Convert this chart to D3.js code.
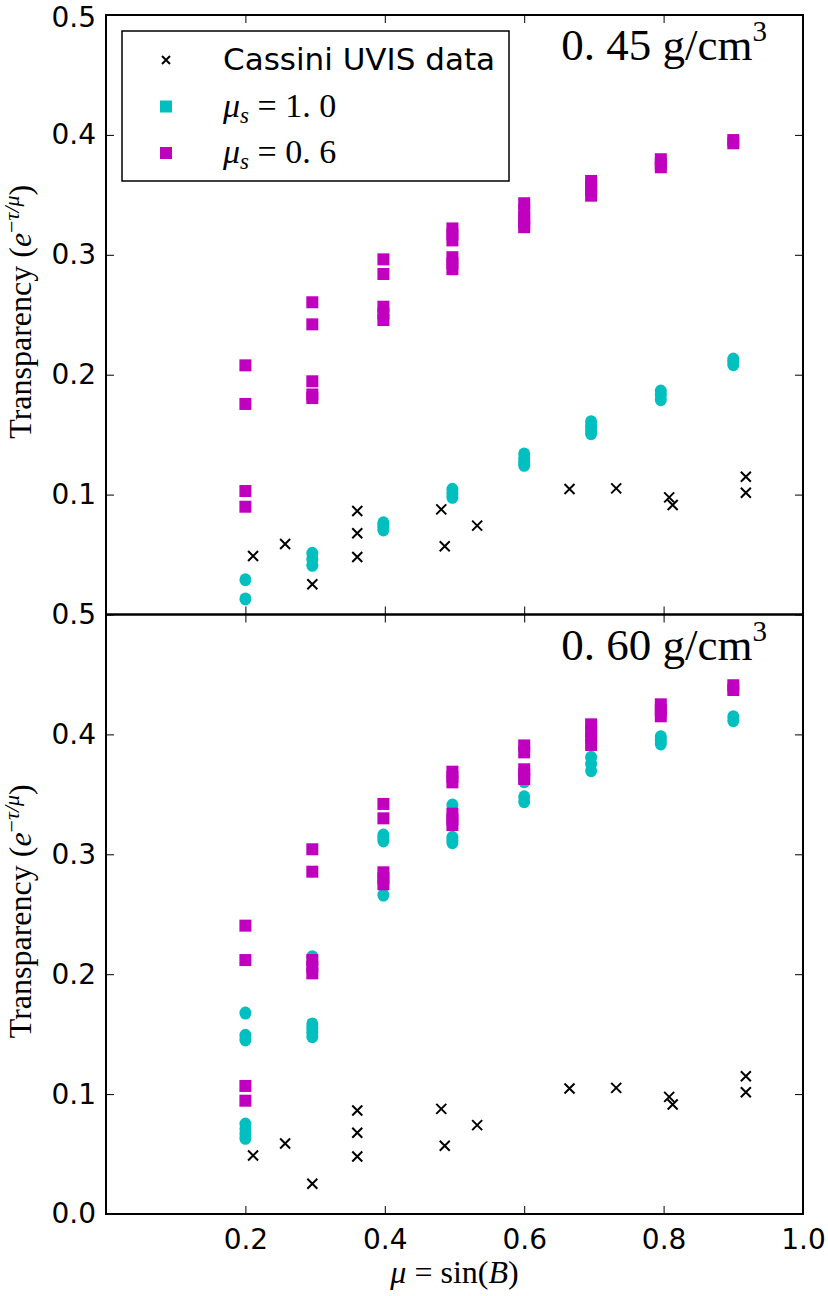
<!DOCTYPE html>
<html>
<head>
<meta charset="utf-8">
<script src="https://cdn.jsdelivr.net/npm/d3@7"></script>
<style>
  body { margin: 0; background: #fff; }
  .tick text { font-family: "DejaVu Sans", sans-serif; font-size: 28px; fill: #000; }
  .tick line { stroke: #000; stroke-width: 1; }
  .serif { font-family: "Liberation Serif", "DejaVu Serif", serif; fill: #000; }
</style>
</head>
<body>
<div id="chart"></div>
<script>
// simulation mu values (same for every series)
var muSim = [0.2, 0.296, 0.398, 0.497, 0.6, 0.696, 0.796, 0.9];

// Cassini UVIS measurements
var cassiniMu = [0.211, 0.257, 0.296, 0.3605, 0.3605, 0.3605, 0.481, 0.486, 0.5325, 0.665, 0.732, 0.808, 0.813, 0.918, 0.918];
var cassiniT = [0.0488, 0.0588, 0.0252, 0.0863, 0.0677, 0.048, 0.0877, 0.0569, 0.0741, 0.1047, 0.1052, 0.0977, 0.0913, 0.1149, 0.1016];

// 0.45 g/cm3, mu_s = 1.0 (one list per muSim)
var cyan045 = [
  [0.029, 0.013],
  [0.051, 0.046, 0.041],
  [0.0765, 0.0745, 0.0725, 0.0705],
  [0.1044, 0.101, 0.0977],
  [0.1339, 0.13, 0.127, 0.1244],
  [0.1608, 0.157, 0.1535, 0.1508],
  [0.1864, 0.183, 0.1792],
  [0.2131, 0.2105, 0.2083]
];
// 0.45 g/cm3, mu_s = 0.6
var mag045 = [
  [0.2078, 0.1756, 0.103, 0.0899],
  [0.2604, 0.242, 0.1945, 0.1835, 0.1805],
  [0.2962, 0.284, 0.2567, 0.251, 0.2456],
  [0.322, 0.317, 0.312, 0.298, 0.293, 0.288],
  [0.343, 0.337, 0.331, 0.327, 0.323],
  [0.3616, 0.358, 0.354, 0.3493],
  [0.3797, 0.376, 0.373],
  [0.3957, 0.393]
];
// 0.60 g/cm3, mu_s = 1.0
var cyan060 = [
  [0.1676, 0.149, 0.1451, 0.075, 0.071, 0.067, 0.0631],
  [0.2146, 0.1585, 0.155, 0.1515, 0.1479],
  [0.3161, 0.3135, 0.3111, 0.266],
  [0.3411, 0.3142, 0.312, 0.3097],
  [0.3606, 0.348, 0.3439],
  [0.3809, 0.3753, 0.3697],
  [0.3981, 0.395, 0.392],
  [0.4148, 0.4114]
];
// 0.60 g/cm3, mu_s = 0.6
var mag060 = [
  [0.2405, 0.2118, 0.1068, 0.0945],
  [0.3042, 0.2855, 0.2118, 0.2062, 0.2007],
  [0.342, 0.33, 0.285, 0.28, 0.275],
  [0.3689, 0.3645, 0.36, 0.3339, 0.329, 0.3244],
  [0.3908, 0.385, 0.3709, 0.3668, 0.3628],
  [0.4084, 0.4027, 0.397, 0.3912],
  [0.4251, 0.42, 0.4151],
  [0.441, 0.437]
];

var xTicks = [0.2, 0.4, 0.6, 0.8, 1.0];
var yTicksTop = [0.1, 0.2, 0.3, 0.4, 0.5];
var yTicksBottom = [0.0, 0.1, 0.2, 0.3, 0.4, 0.5];

var CYAN = "#00bfbf", MAGENTA = "#bf00bf";

var left = 106, right = 803, W = 828, H = 1296;
var x = d3.scaleLinear().domain([0, 1]).range([left, right]);

var svg = d3.select("#chart").append("svg")
  .attr("width", W).attr("height", H);

function flatten(groups) {
  var out = [];
  groups.forEach(function (vals, i) {
    vals.forEach(function (v) { out.push({ mu: muSim[i], t: v }); });
  });
  return out;
}

var crossPath = "M-5,-5L5,5M-5,5L5,-5";

function drawPanel(top, bottom, cyanData, magData, yTicks, label) {
  var y = d3.scaleLinear().domain([0, 0.5]).range([bottom, top]);
  var g = svg.append("g");

  // ticks on all four sides, pointing inward
  var ya = g.append("g").attr("transform", "translate(" + left + ",0)")
    .call(d3.axisLeft(y).tickValues(yTicks).tickSize(-8).tickPadding(10).tickFormat(d3.format(".1f")))
    .call(function (a) { a.select(".domain").remove(); });
  g.append("g").attr("transform", "translate(" + right + ",0)")
    .call(d3.axisRight(y).tickValues(yTicks).tickSize(-8).tickFormat(""))
    .call(function (a) { a.select(".domain").remove(); });
  g.append("g").attr("transform", "translate(0," + top + ")")
    .call(d3.axisTop(x).tickValues(xTicks).tickSize(-8).tickFormat(""))
    .call(function (a) { a.select(".domain").remove(); });
  var xb = g.append("g").attr("transform", "translate(0," + bottom + ")")
    .call(d3.axisBottom(x).tickValues(xTicks).tickSize(-8).tickPadding(15).tickFormat(d3.format(".1f")))
    .call(function (a) { a.select(".domain").remove(); });
  return { g: g, y: y, ya: ya, xb: xb, top: top, bottom: bottom, cyan: cyanData, mag: magData, label: label };
}

function drawMarks(p) {
  var y = p.y;
  p.g.append("g").selectAll("path")
    .data(cassiniMu.map(function (m, i) { return { mu: m, t: cassiniT[i] }; }))
    .enter().append("path")
    .attr("d", crossPath)
    .attr("transform", function (d) { return "translate(" + x(d.mu) + "," + y(d.t) + ")"; })
    .attr("stroke", "#000").attr("stroke-width", 2).attr("fill", "none");

  p.g.append("g").selectAll("ellipse")
    .data(flatten(p.cyan))
    .enter().append("ellipse")
    .attr("cx", function (d) { return x(d.mu); })
    .attr("cy", function (d) { return y(d.t); })
    .attr("rx", 6).attr("ry", 6.5)
    .attr("fill", CYAN);

  p.g.append("g").selectAll("rect")
    .data(flatten(p.mag))
    .enter().append("rect")
    .attr("x", function (d) { return x(d.mu) - 6; })
    .attr("y", function (d) { return y(d.t) - 6; })
    .attr("width", 12).attr("height", 12)
    .attr("fill", MAGENTA);

  // frame
  p.g.append("rect")
    .attr("x", left).attr("y", p.top)
    .attr("width", right - left).attr("height", p.bottom - p.top)
    .attr("fill", "none").attr("stroke", "#000").attr("stroke-width", 2);

  // density label
  var t = p.g.append("text").attr("class", "serif")
    .attr("x", 767).attr("y", p.top + 45)
    .attr("text-anchor", "end").style("font-size", "45px");
  t.append("tspan").text(p.label[0] + " g/cm");
  t.append("tspan").attr("dy", -19).style("font-size", "29px").text("3");

  // y title
  var yt = p.g.append("text").attr("class", "serif")
    .attr("transform", "translate(31," + ((p.top + p.bottom) / 2 - 3) + ") rotate(-90)")
    .attr("text-anchor", "middle").style("font-size", "32px");
  yt.append("tspan").text("Transparency (");
  yt.append("tspan").style("font-style", "italic").text("e");
  yt.append("tspan").attr("dy", -12).style("font-size", "22px").text("\u2212");
  yt.append("tspan").style("font-size", "22px").style("font-style", "italic").text("\u03c4/\u03bc");
  yt.append("tspan").attr("dy", 12).text(")");
}

var pTop = drawPanel(15, 614.5, cyan045, mag045, yTicksTop, ["0. 45"]);
var pBot = drawPanel(614.5, 1214, cyan060, mag060, yTicksBottom, ["0. 60"]);
pTop.xb.selectAll("text").remove();
// keep the topmost label inside the page
pTop.ya.selectAll(".tick text").filter(function (d) { return d == 0.5; }).attr("y", 3);
drawMarks(pTop);
drawMarks(pBot);

// x title
var xt = svg.append("text").attr("class", "serif")
  .attr("x", (left + right) / 2).attr("y", 1283)
  .attr("text-anchor", "middle").style("font-size", "32px");
xt.append("tspan").style("font-style", "italic").text("\u03bc");
xt.append("tspan").text(" = sin(");
xt.append("tspan").style("font-style", "italic").text("B");
xt.append("tspan").text(")");

// legend
var legendItems = [
  { type: "x", parts: [["Cassini UVIS data", "sans"]] },
  { type: "c", parts: [["\u03bc", "i"], ["s", "sub"], [" = 1. 0", "r"]] },
  { type: "m", parts: [["\u03bc", "i"], ["s", "sub"], [" = 0. 6", "r"]] }
];
var lg = svg.append("g");
lg.append("rect").attr("x", 122).attr("y", 31).attr("width", 387).attr("height", 150)
  .attr("fill", "#fff").attr("stroke", "#000").attr("stroke-width", 1.5);
var rowY = d3.scalePoint().domain(d3.range(legendItems.length)).range([60, 153]);
legendItems.forEach(function (item, i) {
  var cy = rowY(i);
  if (item.type == "x") {
    lg.append("path").attr("d", "M-4,-4L4,4M-4,4L4,-4")
      .attr("transform", "translate(166," + cy + ")")
      .attr("stroke", "#000").attr("stroke-width", 2);
  } else {
    lg.append("rect").attr("x", 160).attr("y", cy - 6).attr("width", 12).attr("height", 12)
      .attr("fill", item.type == "c" ? CYAN : MAGENTA);
  }
  var t = lg.append("text").attr("x", 223).attr("y", cy + 10);
  item.parts.forEach(function (p) {
    var s = t.append("tspan").text(p[0]);
    if (p[1] == "sans") {
      s.style("font-family", "DejaVu Sans, sans-serif").style("font-size", "31px");
    } else {
      s.style("font-family", "Liberation Serif, serif").style("font-size", "34px");
      if (p[1] == "i") s.style("font-style", "italic");
      if (p[1] == "sub") s.style("font-style", "italic").style("font-size", "23px").attr("dy", 6);
      if (p[1] == "r") s.attr("dy", -6);
    }
  });
});
</script>
</body>
</html>
